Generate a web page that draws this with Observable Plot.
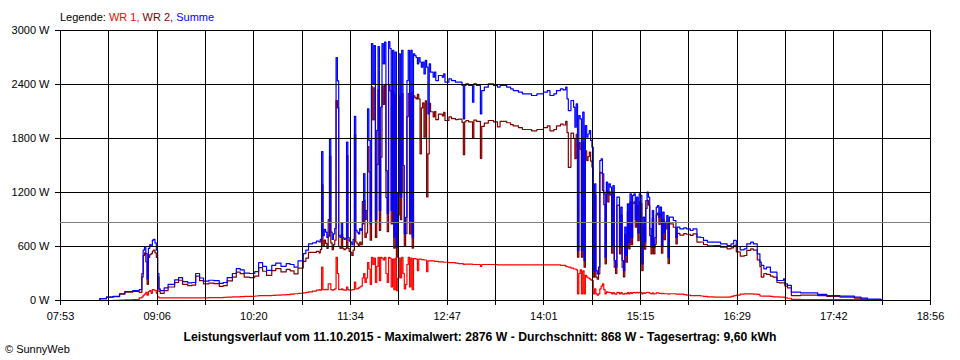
<!DOCTYPE html>
<html>
<head>
<meta charset="utf-8">
<script src="https://cdn.jsdelivr.net/npm/d3@7"></script>
<script src="https://cdn.jsdelivr.net/npm/@observablehq/plot@0.6"></script>
<style>
  body { margin: 0; background: #fff; }
  #chart { width: 960px; height: 360px; }
</style>
</head>
<body>
<div id="chart"></div>
<script>
// ---- data (time of day, watts) ----
const times = [
  "08:21","08:23","08:28","08:33","08:38","08:42","08:48","08:53","08:55","08:56",
  "08:57","08:58","08:59","09:00","09:01","09:02","09:03","09:04","09:05","09:06",
  "09:07","09:08","09:09","09:12","09:15","09:20","09:23","09:26","09:30","09:33",
  "09:36","09:39","09:42","09:46","09:50","09:54","09:57","10:00","10:04","10:07",
  "10:10","10:13","10:17","10:21","10:24","10:27","10:30","10:34","10:37","10:41",
  "10:45","10:48","10:51","10:54","10:58","11:00","11:02","11:05","11:08","11:10",
  "11:11","11:12","11:13","11:14","11:15","11:16","11:17","11:18","11:19","11:20",
  "11:21","11:22","11:23","11:24","11:25","11:26","11:27","11:28","11:29","11:30",
  "11:31","11:32","11:33","11:34","11:35","11:36","11:37","11:38","11:39","11:40",
  "11:41","11:42","11:43","11:44","11:45","11:46","11:47","11:48","11:49","11:50",
  "11:51","11:52","11:53","11:54","11:55","11:56","11:57","11:58","11:59","12:00",
  "12:01","12:02","12:03","12:04","12:05","12:06","12:07","12:08","12:09","12:10",
  "12:11","12:12","12:13","12:14","12:15","12:16","12:17","12:18","12:19","12:20",
  "12:21","12:22","12:23","12:24","12:25","12:26","12:27","12:28","12:29","12:30",
  "12:31","12:32","12:33","12:34","12:35","12:37","12:38","12:39","12:41","12:44",
  "12:45","12:46","12:49","12:51","12:54","12:56","12:59","13:00","13:01","13:02",
  "13:04","13:07","13:08","13:10","13:13","13:14","13:16","13:19","13:23","13:26",
  "13:28","13:33","13:36","13:38","13:42","13:45","13:49","13:52","13:56","14:01",
  "14:04","14:06","14:09","14:11","14:14","14:16","14:18","14:19","14:20","14:22",
  "14:24","14:25","14:26","14:27","14:28","14:29","14:30","14:31","14:32","14:33",
  "14:34","14:35","14:36","14:37","14:38","14:39","14:40","14:41","14:42","14:43","14:44",
  "14:45","14:46","14:47","14:48","14:49","14:50","14:51","14:52","14:53","14:54","14:55",
  "14:56","14:57","14:58","14:59","15:00","15:01","15:02","15:03","15:04","15:05","15:06",
  "15:07","15:08","15:09","15:10","15:11","15:12","15:13","15:14","15:15","15:16",
  "15:17","15:18","15:19","15:20","15:21","15:22","15:23","15:24","15:25","15:26","15:27","15:28","15:29",
  "15:30","15:31","15:32","15:33","15:34","15:35","15:36","15:37","15:40","15:42","15:43",
  "15:45","15:48","15:50","15:53","15:55","15:58","16:01","16:03","16:06","16:11",
  "16:16","16:21","16:24","16:26","16:28","16:31","16:34","16:36","16:39","16:41",
  "16:44","16:46","16:47","16:49","16:51","16:54","16:56","16:59","17:01","17:04",
  "17:05","17:07","17:10","17:17","17:30","17:37","17:47","17:58","18:03","18:08",
  "18:18","18:19"
];

const summe = [
  0,20,37,45,75,100,110,120,300,560,
  600,520,240,580,620,600,670,680,640,560,
  300,130,110,140,180,230,255,210,195,200,
  300,250,215,225,220,190,200,255,300,355,
  340,305,300,320,420,380,335,390,415,380,
  410,400,370,440,520,560,630,640,660,650,
  680,1655,720,790,760,700,900,1790,760,680,
  740,800,2700,2440,720,700,865,700,680,690,
  1760,700,660,650,620,680,2045,780,760,740,
  800,780,1100,1410,900,1000,2130,1780,850,2855,
  2407,2833,900,1890,2822,1000,2148,2855,2630,2870,
  1444,965,2876,2800,1000,2780,703,2760,592,1200,
  2740,1148,2780,1500,740,925,2444,2780,889,2780,
  703,2740,2720,2700,2630,2700,2650,2593,2650,2518,
  2667,2593,2074,2630,2537,2481,2537,2444,2500,2481,
  2518,2426,2463,2444,2426,2426,2389,2019,2389,2407,
  2389,2204,2407,2389,2074,2333,2370,2407,2389,2370,
  2389,2370,2352,2333,2315,2296,2296,2278,2296,2315,
  2333,2278,2296,2333,2352,2340,2370,2241,2110,2222,
  2148,1926,2185,555,2055,2018,555,2092,444,1944,
  1815,1850,1889,1778,1704,333,1296,333,296,370,1555,
  1574,1407,1185,481,1315,1185,1296,1259,600,1278,444,
  370,1148,1148,593,1037,444,333,815,500,1074,648,
  1185,700,1167,1185,900,1148,750,1185,1167,407,
  926,650,1111,1204,1148,800,593,1000,593,700,1037,1055,926,
  1037,600,981,750,870,944,480,926,889,700,815,
  796,808,796,778,796,704,700,667,648,648,
  630,611,630,667,600,563,574,630,648,630,
  518,426,390,352,370,315,315,222,222,241,
  185,167,92,85,67,55,48,37,26,15,
  7,0
];

const wr1 = [
  0,0,0,3,5,8,10,30,40,60,
  70,90,60,100,110,80,120,119,110,80,
  40,30,30,30,30,30,30,30,30,30,
  30,30,30,32,33,33,35,38,40,40,
  42,45,45,50,55,55,55,58,60,63,
  65,70,75,80,85,90,95,105,115,120,
  115,370,120,120,125,120,185,185,120,115,
  120,130,480,300,120,120,130,120,115,115,
  150,120,115,115,120,120,204,130,130,140,
  150,160,250,300,200,250,420,350,180,480,
  400,470,200,380,480,220,480,470,450,480,
  300,200,480,470,150,460,120,470,110,250,
  470,250,480,300,130,180,400,480,150,470,
  120,465,465,460,333,460,460,455,455,450,
  450,320,440,440,440,440,435,435,430,430,
  425,425,420,420,415,410,410,400,405,405,
  405,400,400,400,380,400,400,400,400,395,
  395,395,395,395,395,395,395,395,395,395,
  395,395,395,395,390,390,380,375,370,360,
  350,350,340,74,300,340,74,330,74,280,
  260,250,240,230,222,74,130,74,60,74,130,
  160,185,120,74,95,90,90,88,74,88,74,
  70,90,88,74,88,74,70,80,74,88,74,
  88,80,88,90,85,90,85,90,90,74,
  85,80,88,90,88,80,74,85,74,75,85,85,80,
  80,75,80,75,75,75,70,75,75,70,70,
  70,65,60,55,55,55,50,45,40,37,
  37,37,45,55,60,70,74,74,74,70,
  67,50,48,48,48,45,40,40,37,37,
  30,25,12,10,10,10,10,10,8,5,
  3,0
];

const wr2 = [
  0,20,37,42,70,92,100,90,260,500,
  530,430,180,480,510,520,550,561,530,480,
  260,100,80,110,150,200,225,180,165,170,
  270,220,185,193,187,157,165,217,260,315,
  298,260,255,270,365,325,280,332,355,317,
  345,330,295,360,435,470,535,535,545,530,
  565,1285,600,670,635,580,715,1605,640,565,
  620,670,2220,2140,600,580,735,580,565,575,
  1610,580,545,535,500,560,1840,650,630,600,
  650,620,850,1110,700,750,1710,1430,670,2375,
  2007,2363,700,1510,2342,780,1592,2385,2180,2390,
  1144,765,2396,2330,850,2320,583,2290,482,950,
  2270,898,2300,1200,610,745,2044,2300,739,2310,
  583,2275,2255,2240,2290,2240,1630,2140,2195,1815,
  2217,1150,1630,2190,2097,2041,2100,2009,2070,2050,
  2090,2000,2040,2020,2010,2015,1980,1620,1985,2000,
  1985,1800,2005,1990,1580,1935,1970,2000,1985,1930,
  1990,1975,1955,1940,1920,1900,1900,1885,1900,1920,
  1940,1885,1900,1940,1960,1950,1990,1866,1480,1860,
  1800,1576,1845,481,1755,1680,481,1760,370,1664,
  1555,1600,1649,1548,1482,259,1166,259,236,296,1425,
  1414,1222,1065,407,1220,1095,1206,1171,526,1190,370,
  300,1058,1060,519,949,370,263,735,426,986,574,
  1097,620,1079,1095,815,1058,665,1095,1077,333,
  841,570,1023,1114,1060,720,519,915,519,625,952,970,846,
  957,525,901,675,795,869,410,851,814,630,745,
  726,743,736,723,741,649,650,622,608,611,
  593,574,585,612,540,493,500,556,574,560,
  451,376,260,300,290,270,260,200,195,195,
  160,140,55,60,55,45,38,27,16,8,
  5,0
];

const xTickLabels = ["07:53","09:06","10:20","11:34","12:47","14:01","15:15","16:29","17:42","18:56"];
const yTicks = [0, 600, 1200, 1800, 2400, 3000];
const averageW = 868;
const legendTexts = ["Legende: ", "WR 1, ", "WR 2, ", "Summe"];
const titleText = "Leistungsverlauf vom 11.10.2015 - Maximalwert: 2876 W - Durchschnitt: 868 W - Tagesertrag: 9,60 kWh";
const creditText = "\u00A9 SunnyWeb";

// ---- styling ----
const colWR1 = "#ff0000", colWR2 = "#800000", colSum = "#0000ff";
const legendColors = ["#000000", colWR1, colWR2, colSum];

const toMin = s => (+s.slice(0, 2)) * 60 + (+s.slice(3));
const xStart = toMin(xTickLabels[0]);
const xEnd = toMin(xTickLabels[xTickLabels.length - 1]);
const nGrid = (xTickLabels.length - 1) * 2;
const gridX = d3.range(nGrid + 1).map(i => xStart + i * (xEnd - xStart) / nGrid);

const mk = arr => times.map((t, i) => ({t: toMin(t), v: arr[i]}));
const dWR1 = mk(wr1), dWR2 = mk(wr2), dSum = mk(summe);

const lineOpts = {x: "t", y: "v", curve: "step-after", strokeWidth: 1.2};

const chart = Plot.plot({
  width: 960,
  height: 360,
  marginLeft: 60,
  marginRight: 30,
  marginTop: 30,
  marginBottom: 60,
  style: {fontFamily: "'Liberation Sans', Arial, sans-serif", fontSize: "11px", background: "#ffffff", color: "#000000", overflow: "visible"},
  x: {domain: [xStart, xEnd], label: null},
  y: {domain: [0, 3000], label: null},
  marks: [
    Plot.line(dWR1, {...lineOpts, stroke: colWR1}),
    Plot.line(dWR2, {...lineOpts, stroke: colWR2}),
    Plot.line(dSum, {...lineOpts, stroke: colSum}),
    Plot.ruleX(gridX, {stroke: "#000", strokeWidth: 1, shapeRendering: "crispEdges"}),
    Plot.ruleY(yTicks, {stroke: "#000", strokeWidth: 1, shapeRendering: "crispEdges"}),
    Plot.ruleY([averageW], {stroke: "#808080", strokeWidth: 1, shapeRendering: "crispEdges"}),
    Plot.axisX(gridX, {
      label: null,
      tickSize: 5, tickPadding: 7, stroke: "#000", shapeRendering: "crispEdges",
      tickFormat: d => {
        const i = Math.round((d - xStart) / (xEnd - xStart) * nGrid);
        return i % 2 === 0 ? xTickLabels[i / 2] : "";
      }
    }),
    Plot.axisY(yTicks, {label: null, tickSize: 5, tickPadding: 6, stroke: "#000", shapeRendering: "crispEdges", tickFormat: d => `${d} W`})
  ]
});

const svg = d3.select(chart);
const legend = svg.append("text")
  .attr("x", 60).attr("y", 21)
  .attr("text-anchor", "start")
  .style("font-size", "11px");
legendTexts.forEach((txt, i) => legend.append("tspan").attr("fill", legendColors[i]).text(txt));

svg.append("text")
  .attr("x", 480).attr("y", 341)
  .attr("text-anchor", "middle")
  .attr("font-weight", "bold")
  .attr("textLength", 593)
  .attr("lengthAdjust", "spacingAndGlyphs")
  .style("font-size", "13px")
  .attr("fill", "#000")
  .text(titleText);

svg.append("text")
  .attr("x", 5).attr("y", 353)
  .attr("text-anchor", "start")
  .style("font-size", "11px")
  .attr("fill", "#000")
  .text(creditText);

document.getElementById("chart").appendChild(chart);
</script>
</body>
</html>
